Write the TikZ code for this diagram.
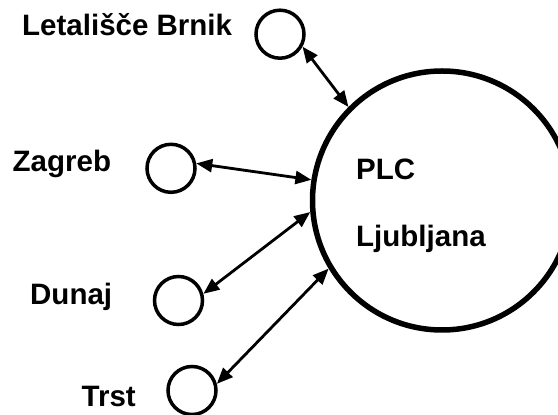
\documentclass[tikz,border=0pt]{standalone}
\usepackage{fontspec}
\setmainfont{Liberation Sans}
\usetikzlibrary{arrows.meta}
\begin{document}
\begin{tikzpicture}[x=1pt,y=1pt,
  bigcirc/.style={circle,draw,line width=5.5pt,minimum size=259pt,inner sep=0pt},
  smallcirc/.style={circle,draw,line width=3.5pt,minimum size=48pt,inner sep=0pt},
  lbl/.style={anchor=base west,inner sep=0pt,font=\fontsize{29.5}{33}\selectfont\bfseries},
  biarrow/.style={line width=2.8pt,{Triangle[length=16pt,width=13pt]}-{Triangle[length=16pt,width=13pt]}}]
\useasboundingbox (0,0) rectangle (558,415);
\clip (0,0) rectangle (558,415);
\node[bigcirc] (plc) at (442,214.5) {};
\node[smallcirc] (brnik) at (280,380.8) {};
\node[smallcirc] (zagreb) at (171,246.7) {};
\node[smallcirc] (dunaj) at (178.5,114.5) {};
\node[smallcirc] (trst) at (192,24.5) {};
\node[lbl] (tbrnik) at (22,379) {Letališče Brnik};
\node[lbl] (tzagreb) at (12.5,243) {Zagreb};
\node[lbl] (tdunaj) at (30,110) {Dunaj};
\node[lbl] (ttrst) at (81.5,8) {Trst};
\node[lbl] (tplc) at (356,235) {PLC};
\node[lbl] (tlj) at (356,168) {Ljubljana};
\draw[biarrow] (brnik.-29.5) -- (plc.135.8);
\draw[biarrow] (zagreb.11) -- (plc.171.4);
\draw[biarrow] (dunaj.15.6) -- (plc.185.6);
\draw[biarrow] (trst.15.6) -- (plc.211.8);
\end{tikzpicture}
\end{document}
